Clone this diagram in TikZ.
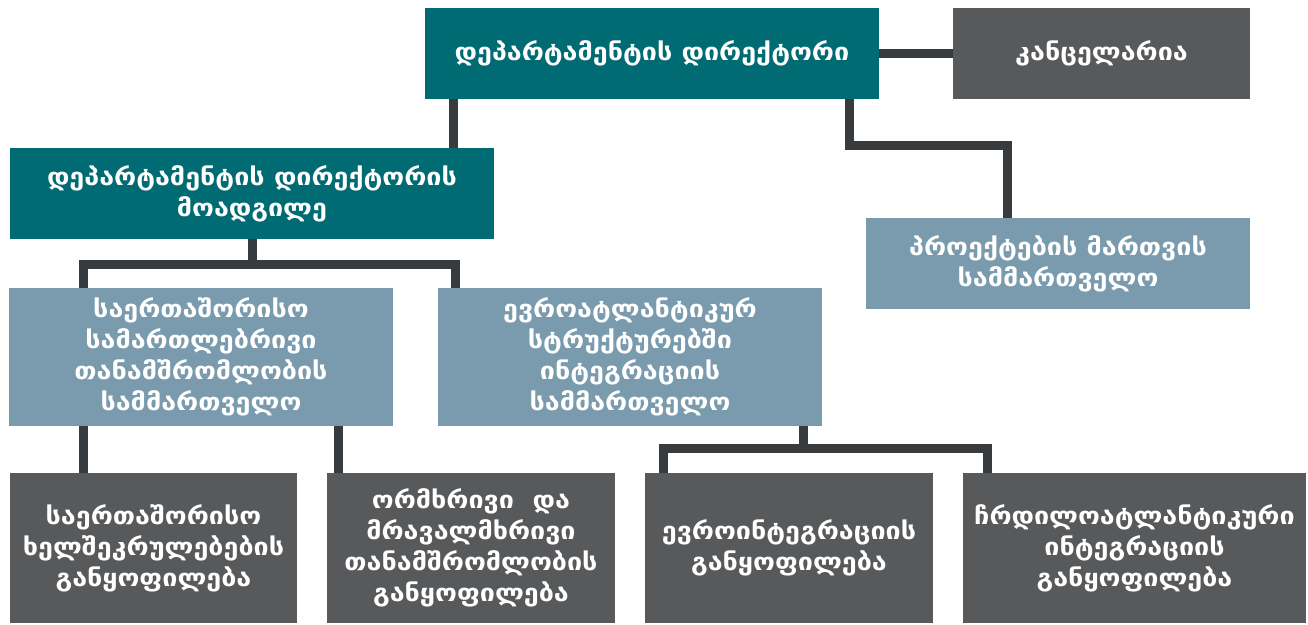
\documentclass[tikz,border=0pt]{standalone}
\usepackage{fontspec}
\newfontfamily\geofont[FakeStretch=1.12]{DejaVu Sans}
\definecolor{headteal}{HTML}{006B73}
\definecolor{unitblue}{HTML}{7A9BAD}
\definecolor{deptgray}{HTML}{58595B}
\definecolor{linkgray}{HTML}{373B3E}

\begin{document}
\begin{tikzpicture}[
  x=1pt, y=-1pt,
  every node/.style={inner sep=0pt, align=center, text=white,
    font=\geofont\bfseries\fontsize{24}{31}\selectfont},
  head/.style={fill=headteal},
  unit/.style={fill=unitblue},
  dept/.style={fill=deptgray},
  link/.style={draw=linkgray, line width=9pt}
]
\useasboundingbox (0,0) rectangle (1308,624);

% top level
\node[head, minimum width=454, minimum height=91] (dir) at (652,53.5) {დეპარტამენტის დირექტორი};
\node[dept, minimum width=297, minimum height=91] (kanc) at (1101.5,53.5) {კანცელარია};
\node[head, minimum width=484, minimum height=91] (dep) at (252,193.5) {დეპარტამენტის დირექტორის\\მოადგილე};
\node[unit, minimum width=384, minimum height=91] (proj) at (1058,263.5) {პროექტების მართვის\\სამმართველო};

% sections
\node[unit, minimum width=384, minimum height=138] (secA) at (201,357) {საერთაშორისო\\სამართლებრივი\\თანამშრომლობის\\სამმართველო};
\node[unit, minimum width=384, minimum height=138] (secB) at (630,357) {ევროატლანტიკურ\\სტრუქტურებში\\ინტეგრაციის\\სამმართველო};

% divisions
\node[dept, minimum width=287, minimum height=150] (divA) at (153.5,548) {საერთაშორისო\\ხელშეკრულებების\\განყოფილება};
\node[dept, minimum width=288, minimum height=150] (divB) at (471,548) {ორმხრივი~~და\\მრავალმხრივი\\თანამშრომლობის\\განყოფილება};
\node[dept, minimum width=288, minimum height=150] (divC) at (789,548) {ევროინტეგრაციის\\განყოფილება};
\node[dept, minimum width=343, minimum height=150] (divD) at (1134.5,548) {ჩრდილოატლანტიკური\\ინტეგრაციის\\განყოფილება};

% connectors
\draw[link] (dir.east) -- (kanc.west);
\draw[link] ([xshift=29pt]dir.south west) -- ([xshift=29pt]dir.south west |- dep.north);
\draw[link] ([xshift=-30pt]dir.south east) -- ++(0,46) -| ([xshift=142pt]proj.north west);

\draw[link] (dep.south) -- ++(0,25) coordinate (depfork);
\draw[link] ([xshift=75pt]secA.north west) |- (depfork) -| ([xshift=18pt]secB.north west);

\draw[link] ([xshift=75pt]secA.south west) -- ([xshift=75pt]secA.south west |- divA.north);
\draw[link] ([xshift=12pt]divB.north west |- secA.south) -- ([xshift=12pt]divB.north west);

\draw[link] ([xshift=-19pt]secB.south east) -- ++(0,22) coordinate (secfork);
\draw[link] ([xshift=19pt]divC.north west) |- (secfork) -| ([xshift=25pt]divD.north west);
\end{tikzpicture}
\end{document}
